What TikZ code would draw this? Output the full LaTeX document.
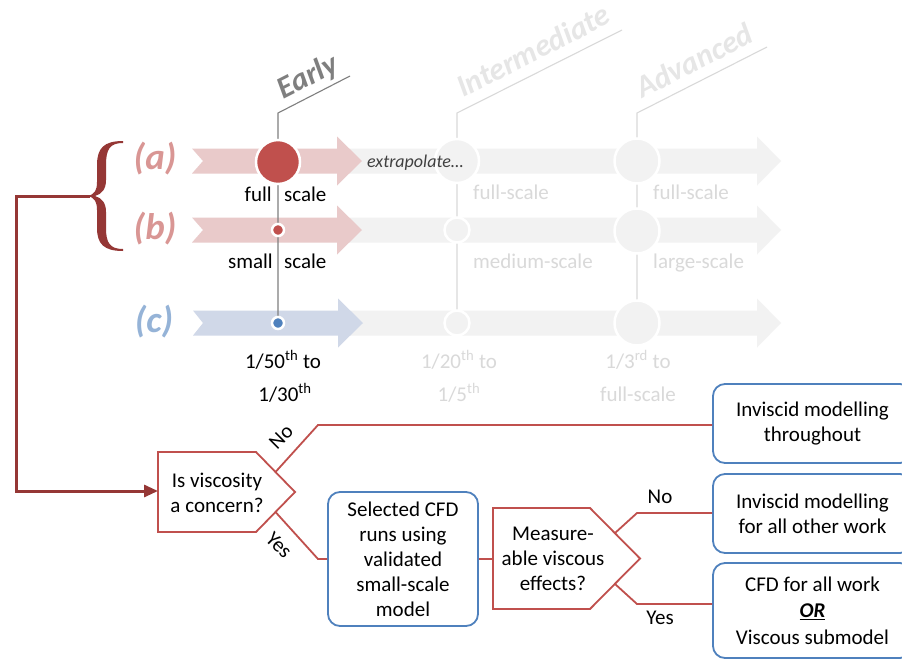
\documentclass[tikz,border=0pt]{standalone}
\usepackage{fontspec}
\setmainfont{Carlito}
\usetikzlibrary{arrows.meta}
\definecolor{redC}{HTML}{C0504D}
\definecolor{blueC}{HTML}{4F81BD}
\definecolor{darkred}{HTML}{953735}
\definecolor{pinkband}{HTML}{E9CACA}
\definecolor{blueband}{HTML}{D0D8E8}
\definecolor{grayband}{HTML}{F2F2F2}
\definecolor{graytxt}{HTML}{D9D9D9}
\definecolor{faint}{HTML}{E6E6E6}
\definecolor{earlygray}{HTML}{7F7F7F}
\definecolor{labelred}{HTML}{D99694}
\definecolor{labelblue}{HTML}{95B3D7}
\definecolor{extragray}{HTML}{404040}
% #1 colour, #2 start x, #3 notch depth, #4 head base x, #5 tip x, #6 centre y
\newcommand\bandarrow[6]{%
  \fill[#1] (#2,#6-12.5) -- (#4,#6-12.5) -- (#4,#6-24.5) -- (#5,#6) -- (#4,#6+24.5)
    -- (#4,#6+12.5) -- (#2,#6+12.5) -- (#2+#3,#6) -- cycle;}
\tikzset{
  f21/.style={font=\fontsize{21}{25}\selectfont},
  rowlabel/.style={font=\fontsize{37}{42}\selectfont\bfseries\itshape},
  stage/.style={font=\fontsize{31}{35}\selectfont\bfseries\itshape, rotate=27, anchor=base},
  box/.style={draw=blueC, line width=1.8pt, rounded corners=12pt, fill=white,
    align=center, f21, inner sep=0pt},
  decision/.style={draw=redC, line width=1.8pt, fill=white},
  link/.style={draw=redC, line width=1.8pt},
  dot/.style={circle, draw=white, line width=2.5pt, inner sep=0pt},
  graylab/.style={f21, text=graytxt},
}
\begin{document}
\begin{tikzpicture}[x=1pt,y=-1pt]
\clip (0,0) rectangle (902,659);
\fill[white] (0,0) rectangle (902,659);

% ---------- timeline bands ----------
\bandarrow{grayband}{340}{0}{757}{781}{161}
\bandarrow{grayband}{340}{0}{757}{781}{230}
\bandarrow{grayband}{340}{0}{757}{781}{323}
\bandarrow{pinkband}{192}{11}{337}{362}{161}
\bandarrow{pinkband}{192}{11}{337}{362}{230}
\bandarrow{blueband}{193}{10}{338}{363}{323}

% ---------- stage lines ----------
\coordinate (E0) at (350,76);  \coordinate (E1) at (278,113); \coordinate (E2) at (278,323);
\coordinate (I0) at (622,30);  \coordinate (I1) at (457,113); \coordinate (I2) at (457,323);
\coordinate (A0) at (767,47);  \coordinate (A1) at (637,113); \coordinate (A2) at (637,323);
\draw[earlygray, line width=1.1pt] (E0) -- (E1) -- (E2);
\draw[graytxt, line width=1.1pt] (I0) -- (I1) -- (I2);
\draw[graytxt, line width=1.1pt] (A0) -- (A1) -- (A2);

\node[stage, text=earlygray] (early) at (312,85) {Early};
\node[stage, text=faint] (inter) at (538,60) {Intermediate};
\node[stage, text=faint] (adv) at (699,70) {Advanced};

% ---------- circles ----------
\node[dot, fill=redC, minimum size=44pt] (ea) at (278,162) {};
\node[dot, fill=redC, minimum size=12pt] (eb) at (278,230) {};
\node[dot, fill=blueC, minimum size=12pt] (ec) at (278,323) {};
\node[dot, fill=grayband, minimum size=44pt] (ia) at (457,161) {};
\node[dot, fill=grayband, minimum size=25pt] (ib) at (457,230) {};
\node[dot, fill=grayband, minimum size=25pt] (ic) at (457,323) {};
\node[dot, fill=grayband, minimum size=45pt] (aa) at (637,161) {};
\node[dot, fill=grayband, minimum size=45pt] (ab) at (637,231) {};
\node[dot, fill=grayband, minimum size=45pt] (ac) at (637,323) {};

\node[anchor=base west, font=\fontsize{18}{21}\selectfont\itshape, text=extragray, inner sep=0pt]
  (extra) at (367,167) {extrapolate…};

% ---------- row labels ----------
\node[rowlabel, text=labelred] (la) at (155,159) {(a)};
\node[rowlabel, text=labelred] (lb) at (155,229) {(b)};
\node[rowlabel, text=labelblue] (lc) at (154,322) {(c)};

% ---------- scale labels ----------
\node[f21, anchor=base east, inner sep=0pt] (t1) at (272,201) {full};
\node[f21, anchor=base west, inner sep=0pt] (t2) at (284,201) {scale};
\node[f21, anchor=base east, inner sep=0pt] (t3) at (273,268) {small};
\node[f21, anchor=base west, inner sep=0pt] (t4) at (284,268) {scale};
\node[graylab, anchor=base west, inner sep=0pt] (t5) at (473,199) {full-scale};
\node[graylab, anchor=base west, inner sep=0pt] (t6) at (473,268) {medium-scale};
\node[graylab, anchor=base west, inner sep=0pt] (t7) at (653,199) {full-scale};
\node[graylab, anchor=base west, inner sep=0pt] (t8) at (653,268) {large-scale};
\node[f21, anchor=base, inner sep=0pt] (c1) at (283,368) {1/50\textsuperscript{th} to};
\node[f21, anchor=base, inner sep=0pt] (c2) at (285,401) {1/30\textsuperscript{th}};
\node[graylab, anchor=base, inner sep=0pt] (c3) at (459,368) {1/20\textsuperscript{th} to};
\node[graylab, anchor=base, inner sep=0pt] (c4) at (459,401) {1/5\textsuperscript{th}};
\node[graylab, anchor=base, inner sep=0pt] (c5) at (638,368) {1/3\textsuperscript{rd} to};
\node[graylab, anchor=base, inner sep=0pt] (c6) at (638,401) {full-scale};

% ---------- brace ----------
\fill[darkred] (123,141) .. controls (104,141) and (97,148) .. (97,165) -- (97,182)
  .. controls (97,190) and (95,194) .. (88,196)
  .. controls (95,198) and (97,202) .. (97,210) -- (97,228)
  .. controls (97,244) and (104,251) .. (123,251) -- (123,249)
  .. controls (110,249) and (106,243) .. (106,228) -- (106,212)
  .. controls (106,203) and (102,198) .. (95,196)
  .. controls (102,194) and (106,189) .. (106,180) -- (106,165)
  .. controls (106,149) and (110,143) .. (123,143) -- cycle;
\coordinate (bracetip) at (90,196);

% ---------- decisions ----------
\draw[decision] (158,452) -- (256,452) -- (295,492) -- (256,532) -- (158,532) -- cycle;
\node[f21, align=center] (q1) at (217,493) {Is viscosity\\a concern?};
\coordinate (q1w) at (158,491);
\coordinate (q1no) at (275.5,472);
\coordinate (q1yes) at (275.5,512);

\draw[decision] (493,508) -- (590,508) -- (640,558.5) -- (590,609) -- (493,609) -- cycle;
\node[f21, align=center] (q2) at (553,559) {Measure-\\able viscous\\effects?};
\coordinate (q2w) at (493,559);
\coordinate (q2no) at (615,533);
\coordinate (q2yes) at (615,584);

% ---------- boxes ----------
\node[box, minimum width=150pt, minimum height=134pt] (cfd) at (403,559)
  {Selected CFD\\runs using\\validated\\small-scale\\model};
\node[box, minimum width=199pt, minimum height=79pt] (inv1) at (812.5,423.5)
  {Inviscid modelling\\throughout};
\node[box, minimum width=199pt, minimum height=79pt] (inv2) at (812.5,513.5)
  {Inviscid modelling\\for all other work};
\node[box, minimum width=199pt, minimum height=95pt] (cfdall) at (812.5,610.5)
  {CFD for all work\\[1.5pt]\textbf{\textit{\underline{OR}}}\\[1.5pt]Viscous submodel};

% ---------- connectors ----------
\draw[darkred, line width=3pt, -{Triangle[length=14pt,width=12pt]}]
  (bracetip) -- (16,196) |- (q1w);
\draw[link] (q1no) -- (318,425) -- (inv1.west |- 0,425);
\draw[link] (q1yes) -- (318,559) -- (cfd.west |- 0,559);
\draw[link] (cfd.east |- 0,559) -- (q2w);
\draw[link] (q2no) -- (637,513) -- (inv2.west |- 0,513);
\draw[link] (q2yes) -- (637,604) -- (cfdall.west |- 0,604);

\node[f21, rotate=45] (no1) at (281,437) {No};
\node[f21, rotate=-45] (yes1) at (279,545) {Yes};
\node[f21] (no2) at (660,497) {No};
\node[f21] (yes2) at (660,618) {Yes};
\end{tikzpicture}
\end{document}
